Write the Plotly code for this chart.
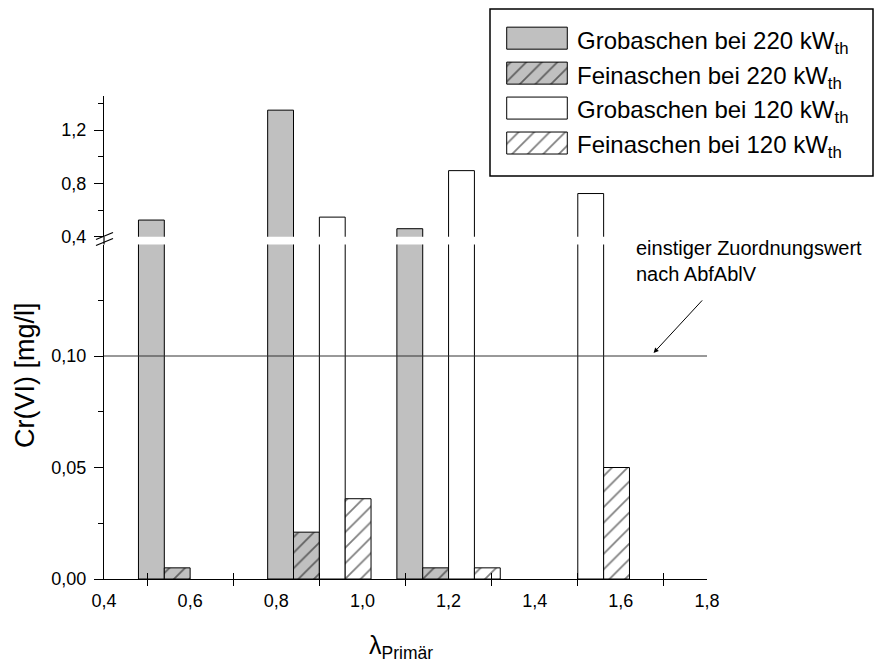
import plotly.graph_objects as go

# ---------------- data ----------------
lam = [0.5, 0.8, 1.1, 1.4]
grob_220 = [0.525, 1.35, 0.46, None]
fein_220 = [0.005, 0.021, 0.005, None]
grob_120 = [None, 0.547, 0.896, 0.724]
fein_120 = [None, 0.036, 0.005, 0.050]
series_names = [
    "Grobaschen bei 220 kW<sub>th</sub>",
    "Feinaschen bei 220 kW<sub>th</sub>",
    "Grobaschen bei 120 kW<sub>th</sub>",
    "Feinaschen bei 120 kW<sub>th</sub>",
]
threshold = 0.10
threshold_text = "einstiger Zuordnungswert<br>nach AbfAblV"
x_ticks = [0.4, 0.6, 0.8, 1.0, 1.2, 1.4, 1.6, 1.8]
x_minor = [0.5, 0.7, 0.9, 1.1, 1.3, 1.5, 1.7]
y_low_ticks = [0.00, 0.05, 0.10]
y_up_ticks = [0.4, 0.8, 1.2]

# ---------------- geometry helpers ----------------
W, H = 887, 666
L, R, T, B = 104, 180, 5, 87
PW, PH = W - L - R, H - T - B


def px_x(px):
    return (px - L) / PW


def px_y(py):
    return (H - B - py) / PH


FONT = "Liberation Sans, Arial, sans-serif"
GRAY = "#c0c0c0"
hatch = dict(shape="/", fgcolor="black", size=11, solidity=0.16)
styles = [
    dict(color=GRAY, pattern=dict(shape="")),
    dict(color=GRAY, pattern=dict(hatch, bgcolor=GRAY)),
    dict(color="white", pattern=dict(shape="")),
    dict(color="white", pattern=dict(hatch, bgcolor="white")),
]
series = [grob_220, fein_220, grob_120, fein_120]
offsets = [-0.02, 0.04, 0.10, 0.16]
bw = 0.06

fig = go.Figure()
for axes in [("x", "y"), ("x2", "y2")]:
    for vals, st, off, nm in zip(series, styles, offsets, series_names):
        fig.add_trace(go.Bar(
            x=lam, y=vals, width=bw, offset=off, name=nm, showlegend=False,
            marker=dict(color=st["color"], pattern=st["pattern"],
                        line=dict(color="black", width=1)),
            xaxis=axes[0], yaxis=axes[1], hoverinfo="skip"))

# legend swatches (own small axes)
for i, (st, nm) in enumerate(zip(styles, series_names)):
    fig.add_trace(go.Bar(
        x=[1], y=[i], base=0, orientation="h", width=0.63, showlegend=False,
        marker=dict(color=st["color"], pattern=st["pattern"],
                    line=dict(color="black", width=1)),
        xaxis="x4", yaxis="y4", hoverinfo="skip"))

# dummy trace for the overlay axis (inner half of crossing ticks)
fig.add_trace(go.Scatter(x=[None], y=[None], xaxis="x3", yaxis="y",
                         showlegend=False, hoverinfo="skip"))

low_top = 244.5
up_bottom = 236.7
up_top = 95.5

tickfont = dict(family=FONT, size=18, color="black")
fig.update_layout(
    width=W, height=H,
    margin=dict(l=L, r=R, t=T, b=B, pad=0),
    paper_bgcolor="white", plot_bgcolor="white",
    separators=",.",
    barmode="overlay",
    showlegend=False,
    xaxis=dict(domain=[0, 1], range=[0.4, 1.8], anchor="y",
               tickmode="array", tickvals=x_ticks, tickformat=".1f",
               ticks="", showgrid=False, zeroline=False,
               showline=True, linecolor="black", linewidth=1.2,
               tickfont=tickfont, ticklabelstandoff=5,
               minor=dict(tickmode="array", tickvals=x_minor, ticks="outside",
                          ticklen=6, tickwidth=1.2, tickcolor="black", showgrid=False)),
    xaxis3=dict(domain=[0, 1], range=[0.4, 1.8], anchor="y", overlaying="x",
                tickmode="array", tickvals=x_minor, ticks="inside", ticklen=6,
                tickwidth=1.2, tickcolor="black", showticklabels=False,
                showgrid=False, zeroline=False, showline=False),
    yaxis=dict(domain=[0, px_y(low_top)], range=[0, 0.15], anchor="x",
               tickmode="array", tickvals=y_low_ticks, tickformat=".2f",
               ticks="outside", ticklen=9, tickwidth=1.2, tickcolor="black",
               showgrid=False, zeroline=False,
               showline=True, linecolor="black", linewidth=1.2,
               tickfont=tickfont, ticklabelstandoff=4,
               minor=dict(tick0=0.025, dtick=0.05, ticks="outside", ticklen=5,
                          tickwidth=1.2, tickcolor="black", showgrid=False)),
    xaxis2=dict(domain=[0, 1], range=[0.4, 1.8], anchor="y2", matches="x",
                visible=False, showgrid=False, zeroline=False),
    yaxis2=dict(domain=[px_y(up_bottom), px_y(up_top)], range=[0.4, 1.46], anchor="x2",
                tickmode="array", tickvals=y_up_ticks, tickformat=".1f",
                ticks="outside", ticklen=9, tickwidth=1.2, tickcolor="black",
                showgrid=False, zeroline=False,
                showline=True, linecolor="black", linewidth=1.2,
                tickfont=tickfont, ticklabelstandoff=4,
                minor=dict(tick0=0.2, dtick=0.4, ticks="outside", ticklen=5,
                           tickwidth=1.2, tickcolor="black", showgrid=False)),
    xaxis4=dict(domain=[px_x(505.5), px_x(568.5)], range=[-0.02, 1.02], anchor="y4",
                visible=False, fixedrange=True),
    yaxis4=dict(domain=[px_y(160.5), px_y(20.7)], range=[3.5, -0.5], anchor="x4",
                visible=False, fixedrange=True),
)

shapes = []
# threshold line
shapes.append(dict(type="line", xref="x", yref="y", x0=0.4, x1=1.8,
                   y0=threshold, y1=threshold, line=dict(color="#333333", width=1),
                   layer="above"))
# legend box
shapes.append(dict(type="rect", xref="paper", yref="paper",
                   x0=px_x(490), x1=px_x(873), y0=px_y(176), y1=px_y(9),
                   line=dict(color="black", width=1.5), fillcolor="rgba(0,0,0,0)"))
# axis break: connector + double slash
shapes.append(dict(type="line", xref="paper", yref="paper",
                   x0=0, x1=0, y0=px_y(low_top), y1=px_y(up_bottom),
                   line=dict(color="black", width=1.2)))
for y_l, y_r in [(239.5, 232.5), (245.5, 238.5)]:
    shapes.append(dict(type="line", xref="paper", yref="paper",
                       x0=px_x(96), x1=px_x(113), y0=px_y(y_l), y1=px_y(y_r),
                       line=dict(color="black", width=1.2)))
fig.update_layout(shapes=shapes)

ann = []
# legend labels
centers = [38.2, 73.7, 107.8, 143.0]
for nm, cy in zip(series_names, centers):
    ann.append(dict(xref="paper", yref="paper", x=px_x(575), y=px_y(cy + 4),
                    xanchor="left", yanchor="middle", text=nm, showarrow=False,
                    font=dict(family=FONT, size=24, color="black")))
# threshold text and arrow
ann.append(dict(xref="x", yref="y", x=1.6306, y=0.1426, xanchor="left", yanchor="middle",
                text=threshold_text, showarrow=False, align="left",
                font=dict(family=FONT, size=20, color="black")))
ann.append(dict(xref="x", yref="y", x=1.676, y=0.1014, axref="x", ayref="y",
                ax=1.792, ay=0.1256, text="", showarrow=True, arrowhead=2,
                arrowsize=1, arrowwidth=1, arrowcolor="black", standoff=0))
# axis titles
ann.append(dict(xref="paper", yref="paper", x=px_x(25), y=px_y(375),
                xanchor="center", yanchor="middle", textangle=-90,
                text="Cr(VI) [mg/l]", showarrow=False,
                font=dict(family=FONT, size=27, color="black")))
ann.append(dict(xref="paper", yref="paper", x=px_x(401), y=px_y(647),
                xanchor="center", yanchor="middle",
                text="λ<sub>Primär</sub>", showarrow=False,
                font=dict(family=FONT, size=25, color="black")))
fig.update_layout(annotations=ann)

fig.write_html("out.html")
